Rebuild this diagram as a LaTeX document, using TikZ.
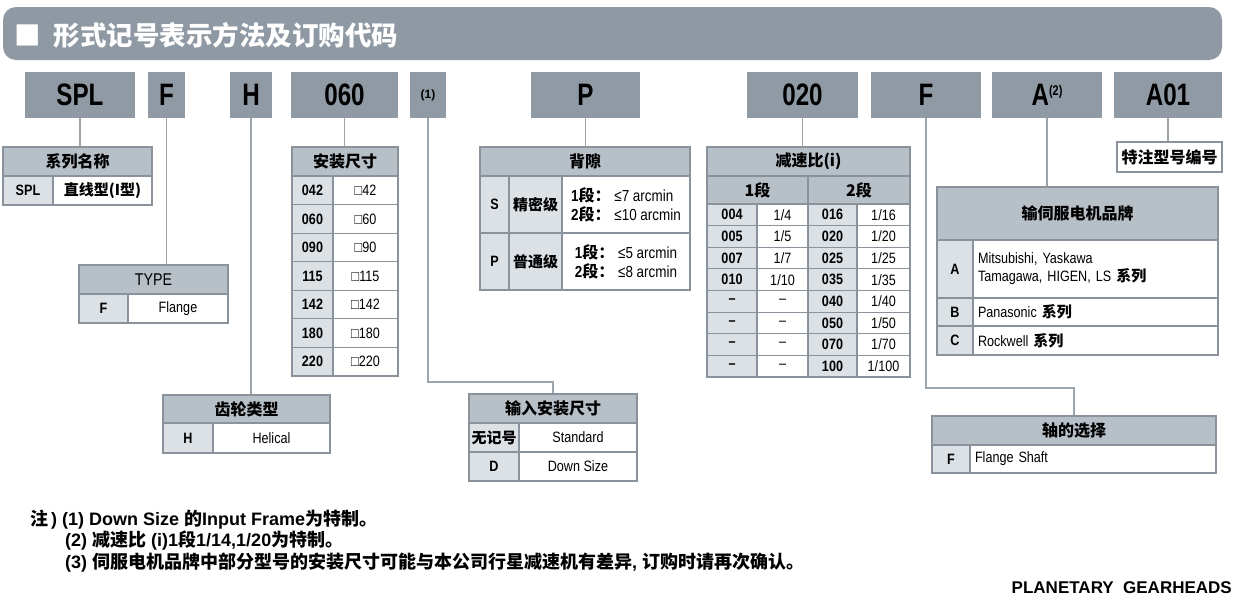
\documentclass[tikz,border=0pt]{standalone}
\usepackage{fontspec}
\setmainfont{Liberation Sans}
\newfontfamily\cjk{Noto Sans CJK SC}
\newfontfamily\cond{Liberation Sans}[FakeStretch=0.84]
\newfontfamily\codef{Liberation Sans}[FakeStretch=0.78]
\definecolor{hdrc}{HTML}{8E99A3}
\definecolor{codec}{HTML}{8F9AA5}
\definecolor{theadc}{HTML}{B7BFC7}
\definecolor{tleftc}{HTML}{DCE1E6}
\definecolor{bordc}{HTML}{8A939C}
\definecolor{connc}{HTML}{9CA4AC}
\newcommand\zh[1]{{\cjk\bfseries #1}}
\newcommand\tblfont{\cond\fontsize{15}{18}\selectfont}
\newcommand\hfont{\cjk\bfseries\fontsize{16}{18}\selectfont}
\newcommand\tcell[7][]{\node[cellbox,#1,minimum width={#5-#3},minimum height={#6-#4}] (#2) at ({(#3+#5)/2},{(#4+#6)/2}) {#7};}
\newcommand\codebx[7][]{\node[codebox,#1,minimum width={#5-#3},minimum height={#6-#4}] (#2) at ({(#3+#5)/2},{(#4+#6)/2}) {#7};}
\newcommand\rrow[5]{%
 \pgfmathsetmacro\ya{204+(#1-1)*21.625}\pgfmathsetmacro\yb{\ya+21.625}%
 \tcell[tleft]{t6a#1}{707}{\ya}{757}{\yb}{\bfseries #2}%
 \tcell{t6b#1}{757}{\ya}{808}{\yb}{#3}%
 \tcell[tleft]{t6c#1}{808}{\ya}{857}{\yb}{\bfseries #4}%
 \tcell{t6d#1}{857}{\ya}{910}{\yb}{#5}}
\begin{document}
\begin{tikzpicture}[x=1pt,y=-1pt,
  cellbox/.style={draw=bordc, line width=1.2pt, fill=white, inner sep=0pt, align=center, font=\tblfont, text=black},
  thead/.style={fill=theadc, font=\hfont},
  tleft/.style={fill=tleftc},
  codebox/.style={fill=codec, inner sep=0pt, font=\codef\bfseries\fontsize{31}{31}\selectfont, text=black},
  conn/.style={draw=connc, line width=1.2pt},
  note/.style={anchor=west, inner sep=0pt, font=\bfseries\fontsize{18}{20}\selectfont}]
\useasboundingbox (0,0) rectangle (1235,611);
\fill[white] (0,0) rectangle (1235,611);
% title bar
\node[fill=hdrc, rounded corners=13pt, minimum width=1219, minimum height=53, inner sep=0] (bar) at (612.5,33.5) {};
\node[anchor=west, text=white, inner sep=0, font=\cjk\bfseries\fontsize{26.5}{26.5}\selectfont] (title) at (14,35) {■\hspace{13pt}形式记号表示方法及订购代码};
% code boxes
\codebx{c1}{25}{72}{135}{118}{SPL}
\codebx{c2}{148}{72}{185}{118}{F}
\codebx{c3}{230}{72}{272}{118}{H}
\codebx{c4}{291}{72}{398}{118}{060}
\codebx[font=\bfseries\fontsize{12}{12}\selectfont]{c5}{410}{72}{446}{118}{(1)}
\codebx{c6}{531}{72}{640}{118}{P}
\codebx{c7}{747}{72}{858}{118}{020}
\codebx{c8}{871}{72}{981}{118}{F}
\codebx{c9}{992}{72}{1102}{118}{A\raisebox{10pt}{\bfseries\fontsize{14}{14}\selectfont(2)}}
\codebx{c10}{1114}{72}{1222}{118}{A01}
% series
\tcell[thead]{t1h}{3}{147}{152}{176}{系列名称}
\tcell[tleft]{t1a}{3}{176}{53}{205}{\bfseries SPL}
\tcell{t1b}{53}{176}{152}{205}{\zh{直线型(I型)}}
% type
\tcell[thead,font=\cond\fontsize{17}{18}\selectfont]{t2h}{79}{265}{228}{294}{TYPE}
\tcell[tleft]{t2a}{79}{294}{128}{323}{\bfseries F}
\tcell{t2b}{128}{294}{228}{323}{Flange}
% gear type
\tcell[thead]{t3h}{163}{395}{330}{423}{齿轮类型}
\tcell[tleft]{t3a}{163}{423}{213}{453}{\bfseries H}
\tcell{t3b}{213}{423}{330}{453}{Helical}
% frame size
\tcell[thead]{t4h}{292}{147}{398}{176}{安装尺寸}
\foreach \c/\v [count=\i] in {042/42,060/60,090/90,115/115,142/142,180/180,220/220} {
  \pgfmathsetmacro\ya{176+(\i-1)*28.57}\pgfmathsetmacro\yb{\ya+28.57}
  \tcell[tleft]{t4a\i}{292}{\ya}{333}{\yb}{\bfseries\c}
  \tcell{t4b\i}{333}{\ya}{398}{\yb}{□\v}
}
% backlash
\tcell[thead]{t5h}{480}{147}{690}{176}{背隙}
\tcell[tleft]{t5a1}{480}{176}{509}{233}{\bfseries S}
\tcell[tleft]{t5b1}{509}{176}{562}{233}{\zh{精密级}}
\tcell[align=left,font=\cond\fontsize{16}{19}\selectfont]{t5c1}{562}{176}{690}{233}{{\bfseries 1}\zh{段：}\ ≤7 arcmin\\{\bfseries 2}\zh{段：}\ ≤10 arcmin}
\tcell[tleft]{t5a2}{480}{233}{509}{290}{\bfseries P}
\tcell[tleft]{t5b2}{509}{233}{562}{290}{\zh{普通级}}
\tcell[align=left,font=\cond\fontsize{16}{19}\selectfont]{t5c2}{562}{233}{690}{290}{{\bfseries 1}\zh{段：}\ ≤5 arcmin\\{\bfseries 2}\zh{段：}\ ≤8 arcmin}
% ratio
\tcell[thead]{t6h}{707}{147}{910}{176}{减速比(i)}
\tcell[thead]{t6s1}{707}{176}{808}{204}{1段}
\tcell[thead]{t6s2}{808}{176}{910}{204}{2段}
\rrow{1}{004}{1/4}{016}{1/16}
\rrow{2}{005}{1/5}{020}{1/20}
\rrow{3}{007}{1/7}{025}{1/25}
\rrow{4}{010}{1/10}{035}{1/35}
\rrow{5}{–}{–}{040}{1/40}
\rrow{6}{–}{–}{050}{1/50}
\rrow{7}{–}{–}{070}{1/70}
\rrow{8}{–}{–}{100}{1/100}
% special
\tcell[font=\hfont]{sp}{1117}{142}{1222}{172}{特注型号编号}
% motor brand
\tcell[thead]{t7h}{937}{187}{1218}{240}{输伺服电机品牌}
\tcell[tleft]{t7a1}{937}{240}{973}{298}{\bfseries A}
\tcell[align=left,inner xsep=5pt,text width=235pt]{t7b1}{973}{240}{1218}{298}{Mitsubishi, Yaskawa\\Tamagawa, HIGEN, LS \zh{系列}}
\tcell[tleft]{t7a2}{937}{298}{973}{326}{\bfseries B}
\tcell[align=left,inner xsep=5pt,text width=235pt]{t7b2}{973}{298}{1218}{326}{Panasonic \zh{系列}}
\tcell[tleft]{t7a3}{937}{326}{973}{355}{\bfseries C}
\tcell[align=left,inner xsep=5pt,text width=235pt]{t7b3}{973}{326}{1218}{355}{Rockwell \zh{系列}}
% input size
\tcell[thead]{t8h}{469}{394}{637}{423}{输入安装尺寸}
\tcell[tleft]{t8a1}{469}{423}{519}{452}{\zh{无记号}}
\tcell{t8b1}{519}{423}{637}{452}{Standard}
\tcell[tleft]{t8a2}{469}{452}{519}{481}{\bfseries D}
\tcell{t8b2}{519}{452}{637}{481}{Down Size}
% shaft
\tcell[thead]{t9h}{932}{416}{1216}{445}{轴的选择}
\tcell[tleft]{t9a}{932}{445}{970}{473}{\bfseries F}
\tcell[align=left,inner xsep=5pt,text width=236pt]{t9b}{970}{445}{1216}{473}{Flange Shaft}
% connectors
\coordinate (k1) at (0,382);
\coordinate (k2) at (0,388);
\draw[conn] (c1.south) -- (c1.south |- t1h.north);
\draw[conn] (c2.south) -- (c2.south |- t2h.north);
\draw[conn] (c3.south) -- (c3.south |- t3h.north);
\draw[conn] (c4.south) -- (c4.south |- t4h.north);
\draw[conn] (c5.south) -- (c5.south |- k1) -| (t8h.north);
\draw[conn] (c6.south) -- (c6.south |- t5h.north);
\draw[conn] (c7.south) -- (c7.south |- t6h.north);
\draw[conn] (c8.south) -- (c8.south |- k2) -| (t9h.north);
\draw[conn] (c9.south) -- (c9.south |- t7h.north);
\draw[conn] (c10.south) -- (c10.south |- sp.north);
% notes
\node[note] (n1) at (30,520) {\zh{注}\,)\ (1) Down Size \zh{的}Input Frame\zh{为特制。}};
\node[note] (n2) at (65,541) {(2) \zh{减速比} (i)1\zh{段}1/14,1/20\zh{为特制。}};
\node[note] (n3) at (65,563) {(3) \zh{伺服电机品牌中部分型号的安装尺寸可能与本公司行星减速机有差异}, \zh{订购时请再次确认。}};
\node[anchor=east, inner sep=0, font=\bfseries\fontsize{17}{17}\selectfont] (foot) at (1232,588) {PLANETARY\ \ GEARHEADS};
\end{tikzpicture}
\end{document}
